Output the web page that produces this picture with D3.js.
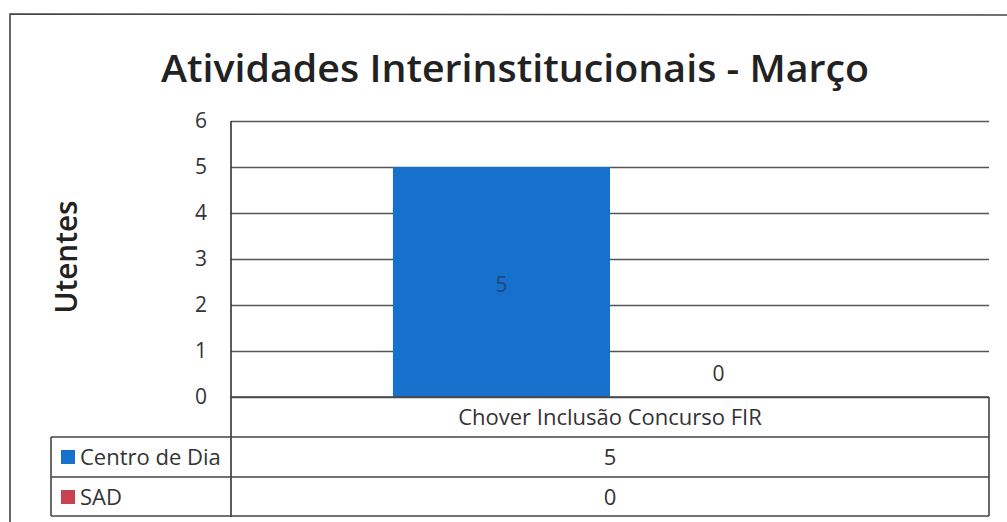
<!DOCTYPE html>
<html>
<head>
<meta charset="utf-8">
<script src="https://cdn.jsdelivr.net/npm/d3@7"></script>
<style>
  body { margin: 0; background: #fff; }
  svg { display: block; font-family: "Open Sans", "DejaVu Sans", sans-serif; }
</style>
</head>
<body>
<div id="chart"></div>
<script>
// data
var categories = ["Chover Inclusão Concurso FIR"];
var seriesNames = ["Centro de Dia", "SAD"];
var centroDeDia = [5];
var sad = [0];
var yTicks = [0, 1, 2, 3, 4, 5, 6];
var seriesColors = ["#1571cb", "#c8434f"];

var Table_Chart = function(opt) {
  this.element = opt.element;
  this.width = opt.width;
  this.height = opt.height;
  this.draw();
};

Table_Chart.prototype.draw = function() {
  this.svg = d3.select(this.element).append("svg")
    .attr("width", this.width)
    .attr("height", this.height);

  // plot box and table geometry
  this.left = 231;
  this.right = 989;
  this.top = 121;
  this.bottom = 397;
  this.rowH = 40;
  this.tableLeft = 51;

  this.series = [centroDeDia, sad];

  this.addFrame();
  this.generateScales();
  this.addAxis();
  this.generateBars();
  this.addTable();
  this.addTitles();
};

Table_Chart.prototype.addFrame = function() {
  // outer chart border (scan shows top + left edges)
  this.svg.append("path")
    .attr("d", "M10,524 L10,14 L1010,15")
    .attr("fill", "none")
    .attr("stroke", "#444")
    .attr("stroke-width", 1.6);
};

Table_Chart.prototype.generateScales = function() {
  this.xScale = d3.scaleBand()
    .domain(categories)
    .range([this.left, this.right])
    .paddingInner(0)
    .paddingOuter(0.373);   // ~150% gap width

  this.xSub = d3.scaleBand()
    .domain(seriesNames)
    .range([0, this.xScale.bandwidth()]);

  this.yScale = d3.scaleLinear()
    .domain([0, d3.max(yTicks)])
    .range([this.bottom, this.top]);
};

Table_Chart.prototype.addAxis = function() {
  var that = this;
  var yAxis = d3.axisLeft(this.yScale)
    .tickValues(yTicks)
    .tickSize(-(this.right - this.left))
    .tickPadding(24)
    .tickFormat(d3.format("d"));

  var g = this.svg.append("g")
    .attr("class", "y-axis")
    .attr("transform", "translate(" + this.left + ",0)")
    .call(yAxis)
    .attr("font-family", null)
    .attr("font-size", null);

  g.select(".domain").remove();
  g.selectAll(".tick line")
    .attr("stroke", "#555")
    .attr("stroke-width", 1.3);
  g.selectAll(".tick text")
    .attr("fill", "#333")
    .style("font-size", "21px");

  // vertical axis line runs down through the data table
  this.svg.append("line")
    .attr("x1", this.left).attr("x2", this.left)
    .attr("y1", this.top)
    .attr("y2", this.bottom + this.rowH * 3)
    .attr("stroke", "#333")
    .attr("stroke-width", 1.6);
};

Table_Chart.prototype.generateBars = function() {
  var that = this;
  var rows = [];
  categories.forEach(function(c, i) {
    seriesNames.forEach(function(s, j) {
      rows.push({cat: c, name: s, value: that.series[j][i], color: seriesColors[j]});
    });
  });

  this.svg.selectAll("rect.bar")
    .data(rows)
    .enter().append("rect")
    .attr("class", "bar")
    .attr("x", function(d) { return that.xScale(d.cat) + that.xSub(d.name); })
    .attr("y", function(d) { return that.yScale(d.value); })
    .attr("width", this.xSub.bandwidth())
    .attr("height", function(d) { return that.yScale(0) - that.yScale(d.value); })
    .attr("fill", function(d) { return d.color; });

  // data labels: centred in the bar, or above baseline when zero
  this.svg.selectAll("text.lbl")
    .data(rows)
    .enter().append("text")
    .attr("class", "lbl")
    .attr("x", function(d) { return that.xScale(d.cat) + that.xSub(d.name) + that.xSub.bandwidth() / 2; })
    .attr("y", function(d) {
      return d.value > 0 ? (that.yScale(d.value) + that.yScale(0)) / 2 + 3 : that.yScale(0) - 23;
    })
    .attr("dy", "0.35em")
    .attr("text-anchor", "middle")
    .attr("fill", function(d) { return d.value > 0 ? "#24457c" : "#333"; })
    .style("font-size", "21px")
    .text(function(d) { return d.value; });
};

Table_Chart.prototype.addTable = function() {
  var that = this;
  var lineColor = "#444";
  var fs = "22px";
  var r0 = this.bottom, r1 = r0 + this.rowH, r2 = r1 + this.rowH, r3 = r2 + this.rowH - 1;

  var t = this.svg.append("g").attr("class", "data-table");

  // horizontal rules
  [[this.left, r0], [this.tableLeft, r1], [this.tableLeft, r2], [this.tableLeft, r3]].forEach(function(p) {
    t.append("line")
      .attr("x1", p[0]).attr("x2", that.right)
      .attr("y1", p[1]).attr("y2", p[1])
      .attr("stroke", lineColor).attr("stroke-width", 1.4);
  });
  // vertical rules
  t.append("line")
    .attr("x1", this.right).attr("x2", this.right)
    .attr("y1", r0).attr("y2", r3)
    .attr("stroke", lineColor).attr("stroke-width", 1.6);
  t.append("line")
    .attr("x1", this.tableLeft).attr("x2", this.tableLeft)
    .attr("y1", r1).attr("y2", r3)
    .attr("stroke", lineColor).attr("stroke-width", 1.6);

  // category header
  t.selectAll("text.cat")
    .data(categories)
    .enter().append("text")
    .attr("class", "cat")
    .attr("x", function(d) { return that.xScale(d) + that.xScale.bandwidth() / 2; })
    .attr("y", r0 + this.rowH / 2)
    .attr("dy", "0.35em")
    .attr("text-anchor", "middle")
    .attr("fill", "#333")
    .style("font-size", fs)
    .text(function(d) { return d; });

  // legend keys + names
  seriesNames.forEach(function(s, j) {
    var yc = r1 + that.rowH * j + that.rowH / 2;
    t.append("rect")
      .attr("x", that.tableLeft + 10).attr("y", yc - 7)
      .attr("width", 14).attr("height", 14)
      .attr("fill", seriesColors[j]);
    t.append("text")
      .attr("x", that.tableLeft + 29).attr("y", yc)
      .attr("dy", "0.35em")
      .attr("fill", "#333")
      .style("font-size", fs)
      .text(s);

    categories.forEach(function(c, i) {
      t.append("text")
        .attr("x", that.xScale(c) + that.xScale.bandwidth() / 2)
        .attr("y", yc)
        .attr("dy", "0.35em")
        .attr("text-anchor", "middle")
        .attr("fill", "#333")
        .style("font-size", fs)
        .text(that.series[j][i]);
    });
  });
};

Table_Chart.prototype.addTitles = function() {
  this.svg.append("text")
    .attr("x", 515)
    .attr("y", 82)
    .attr("text-anchor", "middle")
    .attr("fill", "#222")
    .attr("textLength", 708)
    .attr("lengthAdjust", "spacingAndGlyphs")
    .style("font-size", "38px")
    .style("font-weight", 600)
    .text("Atividades Interinstitucionais - Março");

  this.svg.append("text")
    .attr("transform", "translate(77,257) rotate(-90)")
    .attr("text-anchor", "middle")
    .attr("fill", "#222")
    .attr("textLength", 113)
    .attr("lengthAdjust", "spacingAndGlyphs")
    .style("font-size", "30px")
    .style("font-weight", 600)
    .text("Utentes");
};

new Table_Chart({
  element: "#chart",
  width: 1007,
  height: 522
});
</script>
</body>
</html>
